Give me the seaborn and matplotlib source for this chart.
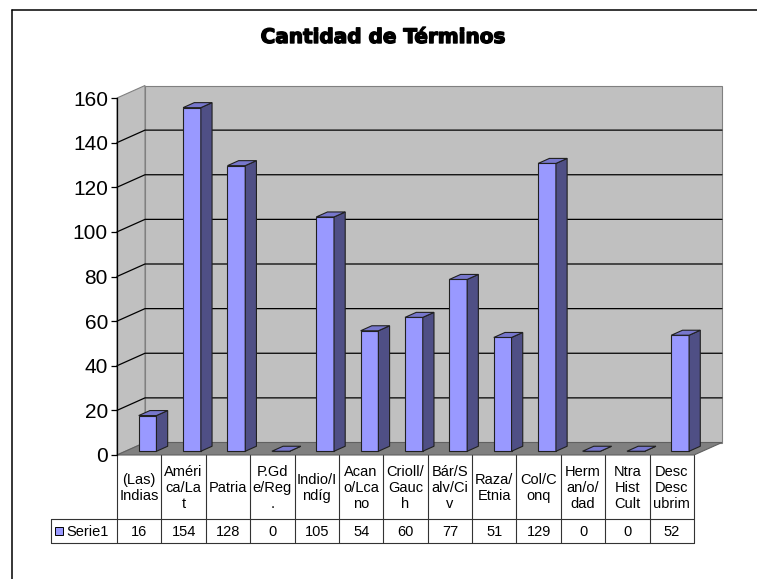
import numpy as np
import pandas as pd
import matplotlib
matplotlib.use('Agg')
import matplotlib.pyplot as plt
import matplotlib.transforms as mtransforms
import matplotlib.patheffects as pe
from matplotlib.patches import Polygon, Rectangle
from matplotlib.lines import Line2D
import seaborn as sns

# data
categories = ["(Las)\nIndias", "Améri\nca/La\nt", "Patria", "P.Gd\ne/Reg\n.",
              "Indio/I\nndíg", "Acan\no/Lca\nno", "Crioll/\nGauc\nh",
              "Bár/S\nalv/Ci\nv", "Raza/\nEtnia", "Col/C\nonq",
              "Herm\nan/o/\ndad", "Ntra\nHist\nCult", "Desc\nDesc\nubrim"]
values = [16, 154, 128, 0, 105, 54, 60, 77, 51, 129, 0, 0, 52]
series_name = "Serie1"
title = "Cantidad de Términos"
y_ticks = list(range(0, 161, 20))

W, H = 757, 579
FRONT = '#9999FF'
SIDE = '#4F4F85'
TOP = '#7777CC'
WALL = '#C0C0C0'
FLOOR = '#808080'

sns.set_style('white')
plt.rcParams['font.family'] = ['Liberation Sans', 'DejaVu Sans']
plt.rcParams['text.color'] = 'black'

fig = plt.figure(figsize=(W / 100, H / 100), dpi=100)
ident = mtransforms.IdentityTransform()


def fx(px):
    return px / W


def fy(py):
    return 1 - py / H


# front plane of the 3d box
ax = fig.add_axes([fx(117), fy(455), fx(694) - fx(117), fy(98) - fy(455)])
ax.patch.set_visible(False)

df = pd.DataFrame({'cat': categories, 'n': values})
sns.barplot(data=df, x='cat', y='n', color=FRONT, saturation=1, width=0.4,
            edgecolor='#202020', linewidth=0.8, ax=ax)
bars = list(ax.patches)
ax.set_xlim(-0.5, len(values) - 0.5)
ax.set_ylim(0, 160)
ax.set_xticks([])
ax.set_yticks(y_ticks)
ax.set_xlabel('')
ax.set_ylabel('')
for s in ['top', 'right', 'bottom']:
    ax.spines[s].set_visible(False)
ax.spines['left'].set_color('black')
ax.spines['left'].set_linewidth(0.9)
ax.spines['left'].set_zorder(5)
ax.tick_params(axis='y', length=4.5, width=0.9, pad=2, labelsize=15,
               direction='out', left=True, colors='black')

DX, DY = 28, 12.5   # depth of the box in pixels
F0, F1 = 0.3, 0.7   # depth range of the bars


def disp(pts, frac):
    d = ax.transData.transform(np.asarray(pts, float))
    return d + frac * np.array([DX, DY])


def poly(xy, fc, ec, z, lw=0.8):
    ax.add_artist(Polygon(xy, closed=True, fc=fc, ec=ec, lw=lw, zorder=z,
                          transform=ident, clip_on=False))


def line(xy, color, z, lw=0.9):
    xy = np.asarray(xy)
    ax.add_artist(Line2D(xy[:, 0], xy[:, 1], color=color, lw=lw, zorder=z,
                         transform=ident, clip_on=False))


x_lo, x_hi = -0.5, len(values) - 0.5
y_hi = 160

# walls
back = disp([(x_lo, 0), (x_hi, 0), (x_hi, y_hi), (x_lo, y_hi)], 1)
poly(back, WALL, FLOOR, 0.1)
left = np.vstack([disp([(x_lo, 0), (x_lo, y_hi)], 0),
                  disp([(x_lo, y_hi), (x_lo, 0)], 1)])
poly(left, WALL, FLOOR, 0.1)

# gridlines
for v in y_ticks[1:-1]:
    pts = np.vstack([disp([(x_lo, v)], 0), disp([(x_lo, v), (x_hi, v)], 1)])
    line(pts, 'black', 0.2)

# floor
floor = np.vstack([disp([(x_lo, 0), (x_hi, 0)], 0),
                   disp([(x_hi, 0), (x_lo, 0)], 1)])
poly(floor, FLOOR, '#606060', 0.3)

# bars: move the seaborn fronts into depth and add side/top faces
shift = mtransforms.ScaledTranslation(F0 * DX / 100, F0 * DY / 100,
                                      fig.dpi_scale_trans)
for p in bars:
    x0, w, h = p.get_x(), p.get_width(), p.get_height()
    p.set_transform(ax.transData + shift)
    p.set_clip_on(False)
    p.set_zorder(3)
    side = np.vstack([disp([(x0 + w, 0), (x0 + w, h)], F0),
                      disp([(x0 + w, h), (x0 + w, 0)], F1)])
    poly(side, SIDE, '#202020', 3, lw=0.8)
    top = np.vstack([disp([(x0, h), (x0 + w, h)], F0),
                     disp([(x0 + w, h), (x0, h)], F1)])
    poly(top, TOP, '#202020', 3, lw=0.8)

# data table
def xd(v):
    return ax.transData.transform((v, 0))[0]


def yd(py):
    return H - py


row1, row2, row3 = 455, 519, 543
tcol = '#333333'
for i in range(len(values) + 1):
    xv = xd(i - 0.5)
    line([(xv, yd(row1)), (xv, yd(row3))], tcol, 4, lw=0.8)
line([(51, yd(row2)), (xd(x_hi), yd(row2))], tcol, 4, lw=0.8)
line([(51, yd(row3)), (xd(x_hi), yd(row3))], tcol, 4, lw=0.8)
line([(51, yd(row2)), (51, yd(row3))], tcol, 4, lw=0.8)

for i, (c, v) in enumerate(zip(categories, values)):
    ax.text(xd(i), yd((row1 + row2) / 2 + 1), c, transform=ident, ha='center',
            va='center', fontsize=10.5, linespacing=1.15, clip_on=False)
    ax.text(xd(i), yd((row2 + row3) / 2 + 1), str(v), transform=ident,
            ha='center', va='center', fontsize=10.5, clip_on=False)

ax.add_artist(Rectangle((55, yd(535)), 8, 8, fc=FRONT, ec='black', lw=0.7,
                        transform=ident, clip_on=False, zorder=4))
ax.text(66, yd((row2 + row3) / 2 + 1), series_name, transform=ident,
        ha='left', va='center', fontsize=10.5, clip_on=False)

# title
fig.text(fx(383), fy(43), title, ha='center', va='baseline', color='black',
         fontsize=14.4, fontweight='bold', family='DejaVu Sans',
         path_effects=[pe.withStroke(linewidth=1.0, foreground='black')])

# outer chart frame (cut off at right and bottom)
fig.add_artist(Line2D([fx(12), fx(757)], [fy(10), fy(10)], color='black',
                      lw=1.1, transform=fig.transFigure))
fig.add_artist(Line2D([fx(12), fx(12)], [fy(10), fy(579)], color='black',
                      lw=1.1, transform=fig.transFigure))

fig.savefig('out.png', dpi=100, facecolor='white')
